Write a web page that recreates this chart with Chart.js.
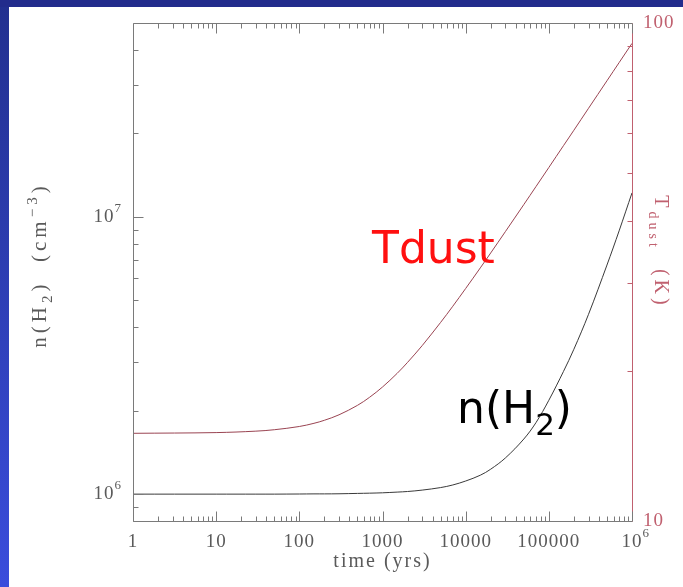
<!DOCTYPE html>
<html>
<head>
<meta charset="utf-8">
<script src="https://cdn.jsdelivr.net/npm/chart.js@4.4.1/dist/chart.umd.min.js"></script>
<style>
  html, body { margin: 0; padding: 0; background: #ffffff; overflow: hidden; }
  #c { display: block; }
</style>
</head>
<body>
<canvas id="c" width="683" height="587"></canvas>
<script>
// Time since the start of the model (years)
const timeYrs = [1, 10, 30, 50, 100, 150, 200, 300, 500, 700, 1000, 1500, 2000, 3000, 5000,
                 7000, 10000, 15000, 20000, 30000, 50000, 70000, 100000, 150000, 200000,
                 300000, 500000, 700000, 1000000];
// Molecular hydrogen density n(H2), cm^-3
const nH2 = [1.0e6, 1.0e6, 1.0e6, 1.0e6, 1.001e6, 1.002e6, 1.002e6, 1.003e6, 1.006e6, 1.008e6,
             1.011e6, 1.017e6, 1.022e6, 1.034e6, 1.056e6, 1.079e6, 1.115e6, 1.17e6, 1.23e6,
             1.35e6, 1.58e6, 1.81e6, 2.18e6, 2.77e6, 3.33e6, 4.45e6, 6.7e6, 8.9e6, 1.22e7];
// Dust temperature, K
const tDust = [15.0, 15.05, 15.15, 15.25, 15.48, 15.71, 15.93, 16.34, 17.07, 17.72, 18.58, 19.79,
               20.82, 22.5, 25.05, 26.99, 29.3, 32.23, 34.53, 38.11, 43.19, 46.93, 51.27, 56.71,
               60.9, 67.4, 76.56, 83.27, 91.0];

// Axis tick labels
const timeTicks = [1, 10, 100, 1000, 10000, 100000, 1000000];
const timeTickLabels = ['1', '10', '100', '1000', '10000', '100000', '10|6'];
const densityTicks = [1e6, 1e7];
const densityTickLabels = ['10|6', '10|7'];
const tempTicks = [10, 100];
const tempTickLabels = ['10', '100'];

const GREY = '#5a5a5a';
const AXIS = '#7a7a7a';
const PINK = '#c0606f';
const SERIF = '"Liberation Serif", "DejaVu Serif", serif';

// draws "base|sup" as base with a raised exponent
function drawPowerLabel(ctx, txt, x, y, align, size, color) {
  const parts = txt.split('|');
  ctx.save();
  ctx.fillStyle = color;
  ctx.textBaseline = 'middle';
  ctx.letterSpacing = '1px';
  ctx.font = size + 'px ' + SERIF;
  const wb = ctx.measureText(parts[0]).width;
  let ws = 0;
  const supSize = Math.round(size * 0.7);
  if (parts[1]) { ctx.font = supSize + 'px ' + SERIF; ws = ctx.measureText(parts[1]).width + 1; }
  let x0 = x;
  if (align === 'center') x0 = x - wb / 2;
  else if (align === 'right') x0 = x - wb - ws;
  ctx.textAlign = 'left';
  ctx.font = size + 'px ' + SERIF;
  ctx.fillText(parts[0], x0, y);
  if (parts[1]) {
    ctx.font = supSize + 'px ' + SERIF;
    ctx.fillText(parts[1], x0 + wb, y - size * 0.45);
  }
  ctx.restore();
}

// draws a run of [text, shift] pieces centred on x; shift: 0 normal, 1 superscript, -1 subscript
function drawRich(ctx, pieces, x, y, size, color, spacing) {
  ctx.save();
  ctx.fillStyle = color;
  ctx.textBaseline = 'alphabetic';
  ctx.textAlign = 'left';
  ctx.letterSpacing = spacing + 'px';
  let total = 0;
  const widths = pieces.map(p => {
    ctx.font = (p[1] ? Math.round(size * 0.7) : size) + 'px ' + SERIF;
    const w = ctx.measureText(p[0]).width;
    total += w;
    return w;
  });
  let cx = x - total / 2;
  pieces.forEach((p, i) => {
    ctx.font = (p[1] ? Math.round(size * 0.7) : size) + 'px ' + SERIF;
    const dy = p[1] === 1 ? -size * 0.45 : (p[1] === -1 ? size * 0.3 : 0);
    ctx.fillText(p[0], cx, y + dy);
    cx += widths[i];
  });
  ctx.restore();
}

const slideAndAxes = {
  id: 'slideAndAxes',
  beforeDraw(chart) {
    const ctx = chart.ctx;
    ctx.save();
    ctx.fillStyle = '#ffffff';
    ctx.fillRect(0, 0, chart.width, chart.height);
    const g = ctx.createLinearGradient(0, 0, 0, chart.height);
    g.addColorStop(0, '#22308f');
    g.addColorStop(1, '#3a4ddc');
    ctx.fillStyle = g;
    ctx.fillRect(0, 0, 9, chart.height);
    ctx.fillStyle = '#222c8c';
    ctx.fillRect(0, 0, chart.width, 7);
    ctx.restore();
  },
  afterDraw(chart) {
    const ctx = chart.ctx;
    const xs = chart.scales.x, yn = chart.scales.yn, yt = chart.scales.yt;
    const { left, right, top, bottom } = chart.chartArea;
    const L = Math.round(left) + 0.5, R = Math.round(right) + 0.5;
    const T = Math.round(top) + 0.5, B = Math.round(bottom) + 0.5;
    const seg = (x1, y1, x2, y2) => { ctx.beginPath(); ctx.moveTo(x1, y1); ctx.lineTo(x2, y2); ctx.stroke(); };
    ctx.save();
    ctx.lineWidth = 1;

    // frame
    ctx.strokeStyle = AXIS;
    seg(L, T, R, T);
    seg(L, B, R, B);
    seg(L, T, L, B);
    ctx.strokeStyle = PINK;
    seg(R, T, R, B);

    // time ticks, top and bottom
    ctx.strokeStyle = AXIS;
    for (let d = 0; d <= 6; d++) {
      for (let k = 1; k <= 9; k++) {
        const v = k * Math.pow(10, d);
        if (v > 1e6) break;
        const px = Math.round(xs.getPixelForValue(v)) + 0.5;
        const len = k === 1 ? 10 : 5;
        seg(px, B, px, B - len);
        seg(px, T, px, T + len);
      }
    }
    // density ticks, left
    for (let d = 5; d <= 7; d++) {
      for (let k = 1; k <= 9; k++) {
        const v = k * Math.pow(10, d);
        if (v < yn.min || v >= yn.max) continue;
        const py = Math.round(yn.getPixelForValue(v)) + 0.5;
        seg(L, py, L + (k === 1 ? 10 : 5), py);
      }
    }
    // temperature ticks, right
    ctx.strokeStyle = PINK;
    for (let k = 2; k <= 9; k++) {
      const py = Math.round(yt.getPixelForValue(k * 10)) + 0.5;
      seg(R, py, R - 5, py);
    }

    // tick labels
    timeTicks.forEach((v, i) => {
      drawPowerLabel(ctx, timeTickLabels[i], xs.getPixelForValue(v), bottom + 21, 'center', 19, GREY);
    });
    densityTicks.forEach((v, i) => {
      drawPowerLabel(ctx, densityTickLabels[i], left - 10, yn.getPixelForValue(v), 'right', 19, GREY);
    });
    tempTicks.forEach((v, i) => {
      drawPowerLabel(ctx, tempTickLabels[i], right + 11, yt.getPixelForValue(v), 'left', 19, PINK);
    });

    // axis titles
    drawRich(ctx, [['time (yrs)', 0]], (left + right) / 2, bottom + 46, 20, GREY, 2);
    ctx.save();
    ctx.translate(46, 265);
    ctx.rotate(-Math.PI / 2);
    drawRich(ctx, [['n(H', 0], ['2', -1], [')  (cm', 0], ['\u22123', 1], [')', 0]], 0, 0, 21, GREY, 4);
    ctx.restore();
    ctx.save();
    ctx.translate(655, 252);
    ctx.rotate(Math.PI / 2);
    drawRich(ctx, [['T', 0], ['dust', -1], ['  (K)', 0]], 0, 0, 20, PINK, 4);
    ctx.restore();

    // curve annotations
    ctx.textAlign = 'left';
    ctx.textBaseline = 'alphabetic';
    ctx.font = '44px "DejaVu Sans", sans-serif';
    ctx.fillStyle = '#ff1010';
    ctx.fillText('Tdust', 372, 263);
    ctx.fillStyle = '#000000';
    ctx.fillText('n(H', 457, 423);
    const w = ctx.measureText('n(H').width;
    ctx.font = '31px "DejaVu Sans", sans-serif';
    ctx.fillText('2', 457 + w, 435);
    const w2 = ctx.measureText('2').width;
    ctx.font = '44px "DejaVu Sans", sans-serif';
    ctx.fillText(')', 457 + w + w2, 423);
    ctx.restore();
  }
};

new Chart(document.getElementById('c'), {
  type: 'line',
  data: {
    labels: timeYrs,
    datasets: [
      {
        label: 'n(H2)',
        data: timeYrs.map((t, i) => ({ x: t, y: nH2[i] })),
        yAxisID: 'yn',
        borderColor: '#3a3a3a',
        borderWidth: 1,
        pointRadius: 0,
        tension: 0.35
      },
      {
        label: 'Tdust',
        data: timeYrs.map((t, i) => ({ x: t, y: tDust[i] })),
        yAxisID: 'yt',
        borderColor: '#9a4452',
        borderWidth: 1,
        pointRadius: 0,
        tension: 0.35
      }
    ]
  },
  options: {
    responsive: false,
    animation: false,
    devicePixelRatio: 1,
    layout: { padding: { left: 133, right: 51, top: 23, bottom: 66 } },
    plugins: { legend: { display: false }, tooltip: { enabled: false } },
    scales: {
      x: { type: 'logarithmic', min: 1, max: 1e6, display: false },
      yn: { type: 'logarithmic', position: 'left', min: 8e5, max: 5e7, display: false },
      yt: { type: 'logarithmic', position: 'right', min: 10, max: 100, display: false }
    }
  },
  plugins: [slideAndAxes]
});
</script>
</body>
</html>
